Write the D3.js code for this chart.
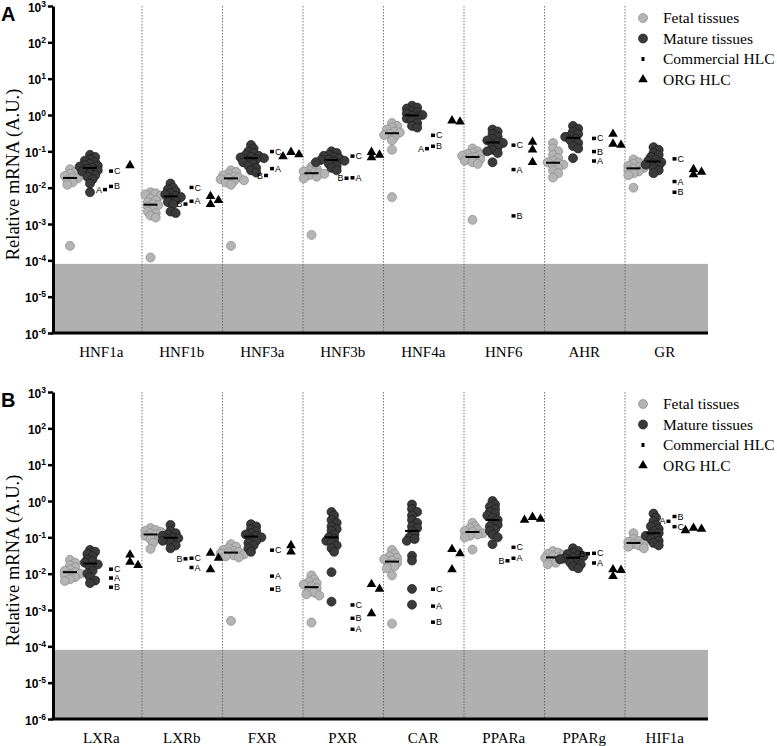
<!DOCTYPE html>
<html>
<head>
<meta charset="utf-8">
<script src="https://cdn.jsdelivr.net/npm/d3@7"></script>
<style>
  body { margin: 0; background: #fff; }
  svg { display: block; }
</style>
</head>
<body>
<div id="chart"></div>
<script>
const genesA = ['HNF1a', 'HNF1b', 'HNF3a', 'HNF3b', 'HNF4a', 'HNF6', 'AHR', 'GR']
const genesB = ['LXRa', 'LXRb', 'FXR', 'PXR', 'CAR', 'PPARa', 'PPARg', 'HIF1a']
const groups = ['Fetal tissues', 'Mature tissues', 'Commercial HLC', 'ORG HLC']
const hlcLetters = ['A', 'B', 'C']
const yTicks = [1e-6, 1e-5, 1e-4, 1e-3, 1e-2, 1e-1, 1e0, 1e1, 1e2, 1e3]
const detectionLimit = 8e-5

const fetalA = [
  [0.032, 0.027, 0.024, 0.021, 0.019, 0.018, 0.016, 0.014, 0.012, 0.00025],
  [0.0075, 0.007, 0.0065, 0.006, 0.005, 0.0045, 0.004, 0.0035, 0.0033, 0.003, 0.0025, 0.0022, 0.002, 0.0017, 0.0015, 0.00012],
  [0.03, 0.027, 0.024, 0.022, 0.02, 0.019, 0.018, 0.017, 0.016, 0.015, 0.014, 0.012, 0.00025],
  [0.038, 0.033, 0.03, 0.028, 0.026, 0.025, 0.024, 0.022, 0.02, 0.018, 0.0005],
  [0.6, 0.5, 0.45, 0.4, 0.35, 0.33, 0.3, 0.28, 0.25, 0.2, 0.11, 0.0055],
  [0.12, 0.1, 0.09, 0.085, 0.08, 0.075, 0.07, 0.065, 0.06, 0.055, 0.05, 0.045, 0.0013],
  [0.17, 0.12, 0.1, 0.08, 0.065, 0.055, 0.05, 0.047, 0.043, 0.04, 0.035, 0.03, 0.025, 0.019],
  [0.06, 0.05, 0.045, 0.04, 0.037, 0.035, 0.033, 0.03, 0.028, 0.025, 0.022, 0.01]
]
const matureA = [
  [0.08, 0.07, 0.06, 0.055, 0.05, 0.045, 0.042, 0.04, 0.038, 0.035, 0.033, 0.03, 0.028, 0.025, 0.022, 0.02, 0.017, 0.013, 0.0075],
  [0.013, 0.01, 0.009, 0.008, 0.007, 0.0065, 0.006, 0.0055, 0.005, 0.0045, 0.004, 0.0035, 0.0022, 0.002],
  [0.15, 0.12, 0.1, 0.09, 0.08, 0.075, 0.07, 0.068, 0.065, 0.06, 0.055, 0.05, 0.045, 0.04, 0.035, 0.03, 0.026],
  [0.1, 0.09, 0.08, 0.075, 0.07, 0.065, 0.06, 0.058, 0.055, 0.052, 0.05, 0.045, 0.04, 0.035, 0.03],
  [1.8, 1.6, 1.5, 1.3, 1.2, 1.1, 1.0, 0.95, 0.9, 0.8, 0.7, 0.6, 0.5, 0.45],
  [0.4, 0.35, 0.3, 0.25, 0.22, 0.2, 0.18, 0.17, 0.15, 0.13, 0.11, 0.1, 0.09, 0.05],
  [0.5, 0.42, 0.35, 0.3, 0.27, 0.25, 0.22, 0.2, 0.17, 0.14, 0.12, 0.065],
  [0.13, 0.11, 0.09, 0.08, 0.07, 0.06, 0.055, 0.05, 0.047, 0.043, 0.04, 0.035, 0.03, 0.025]
]
// commercial HLC values, order A, B, C
const commA = [
  [0.009, 0.011, 0.029],
  [0.0043, 0.0036, 0.0103],
  [0.034, 0.022, 0.1],
  [0.019, 0.0185, 0.075],
  [0.12, 0.14, 0.28],
  [0.032, 0.0017, 0.15],
  [0.055, 0.1, 0.23],
  [0.015, 0.0076, 0.063]
]
const orgA = [
  [0.041],
  [0.0058, 0.0045, 0.0035],
  [0.095, 0.082, 0.072],
  [0.095, 0.08, 0.068],
  [0.7, 0.65],
  [0.18, 0.11, 0.05],
  [0.3, 0.16, 0.15],
  [0.032, 0.027, 0.023]
]

const fetalB = [
  [0.024, 0.02, 0.017, 0.015, 0.013, 0.012, 0.011, 0.01, 0.0095, 0.009, 0.008, 0.007, 0.0063],
  [0.18, 0.16, 0.15, 0.14, 0.13, 0.12, 0.11, 0.1, 0.09, 0.07, 0.048],
  [0.065, 0.055, 0.05, 0.045, 0.042, 0.04, 0.038, 0.036, 0.034, 0.032, 0.03, 0.028, 0.0005],
  [0.009, 0.007, 0.006, 0.0055, 0.005, 0.0045, 0.004, 0.0035, 0.003, 0.0027, 0.0025, 0.00045],
  [0.045, 0.035, 0.03, 0.027, 0.025, 0.023, 0.02, 0.018, 0.016, 0.014, 0.009, 0.00042],
  [0.25, 0.2, 0.18, 0.16, 0.15, 0.14, 0.13, 0.12, 0.11, 0.1, 0.046],
  [0.042, 0.038, 0.035, 0.033, 0.03, 0.028, 0.027, 0.025, 0.023, 0.02, 0.018],
  [0.13, 0.09, 0.08, 0.075, 0.07, 0.065, 0.06, 0.055, 0.05]
]
const matureB = [
  [0.045, 0.04, 0.035, 0.03, 0.025, 0.022, 0.02, 0.018, 0.015, 0.012, 0.01, 0.008, 0.0065, 0.0055],
  [0.22, 0.15, 0.13, 0.12, 0.11, 0.1, 0.095, 0.09, 0.08, 0.07, 0.06, 0.05],
  [0.23, 0.2, 0.17, 0.15, 0.13, 0.12, 0.11, 0.1, 0.09, 0.08, 0.07, 0.06, 0.05, 0.04],
  [0.5, 0.4, 0.3, 0.25, 0.2, 0.17, 0.15, 0.12, 0.1, 0.09, 0.08, 0.07, 0.06, 0.05, 0.04, 0.011, 0.0017],
  [0.8, 0.6, 0.5, 0.4, 0.3, 0.25, 0.2, 0.18, 0.15, 0.12, 0.1, 0.09, 0.08, 0.031, 0.023, 0.0038, 0.0014],
  [1.0, 0.8, 0.7, 0.6, 0.5, 0.45, 0.4, 0.35, 0.3, 0.25, 0.22, 0.2, 0.17, 0.15, 0.12, 0.1, 0.065],
  [0.05, 0.042, 0.038, 0.035, 0.032, 0.03, 0.028, 0.027, 0.025, 0.022, 0.02, 0.018, 0.016, 0.014],
  [0.45, 0.35, 0.28, 0.22, 0.2, 0.17, 0.15, 0.13, 0.12, 0.11, 0.1, 0.09, 0.08, 0.07, 0.06]
]
const commB = [
  [0.0077, 0.0043, 0.0135],
  [0.015, 0.026, 0.027],
  [0.0087, 0.0038, 0.045],
  [0.0003, 0.0006, 0.0014],
  [0.0013, 0.00047, 0.0038],
  [0.027, 0.023, 0.054],
  [0.02, 0.036, 0.037],
  [0.28, 0.38, 0.2]
]
const orgB = [
  [0.033, 0.021, 0.017],
  [0.037, 0.027, 0.013],
  [0.06, 0.04],
  [0.0051, 0.0038, 0.0008],
  [0.047, 0.036, 0.013],
  [0.36, 0.32, 0.3],
  [0.013, 0.0125, 0.0085],
  [0.18, 0.17, 0.155]
]

const panels = [
  { letter: 'A', genes: genesA, fetal: fetalA, mature: matureA, comm: commA, org: orgA, top: 6 },
  { letter: 'B', genes: genesB, fetal: fetalB, mature: matureB, comm: commB, org: orgB, top: 392 }
]

const width = 777
const height = 746
const plotH = 327
const axisX = 53
const rightX = 708
const serif = 'Liberation Serif, Times New Roman, serif'
const sans = 'Liberation Sans, Arial, sans-serif'

const svg = d3.select('#chart').append('svg')
  .attr('width', width)
  .attr('height', height)

// simple beeswarm: keep points at least minD apart, shifting sideways in steps
const swarm = (vals, y, minD, step) => {
  const pts = vals.map(v => ({ v, py: y(v), dx: 0 })).sort((a, b) => a.py - b.py)
  const placed = []
  pts.forEach(p => {
    for (let k = 0; k < 40; k++) {
      const c = k === 0 ? 0 : (k % 2 ? 1 : -1) * Math.ceil(k / 2) * step
      const ok = placed.every(q => (c - q.dx) ** 2 + (p.py - q.py) ** 2 >= minD * minD)
      if (ok) { p.dx = c; break }
    }
    placed.push(p)
  })
  return pts
}

const drawPanel = (p) => {
  const y = d3.scaleLog().domain([1e-6, 1e3]).range([p.top + plotH, p.top])
  const x = d3.scaleBand().domain(p.genes).range([61, 705])
  const gx = d3.scalePoint().domain(groups).range([9, 69])
  const bottom = p.top + plotH

  const g = svg.append('g')

  // below detection limit
  g.append('rect')
    .attr('x', axisX)
    .attr('y', y(detectionLimit))
    .attr('width', rightX - axisX)
    .attr('height', bottom - y(detectionLimit))
    .attr('fill', '#b0b0b0')

  // dotted separators
  g.selectAll('.sep')
    .data(p.genes.slice(1))
    .enter()
    .append('line')
    .attr('x1', d => x(d) + 0.5)
    .attr('x2', d => x(d) + 0.5)
    .attr('y1', p.top)
    .attr('y2', bottom)
    .attr('stroke', '#555')
    .attr('stroke-width', 0.8)
    .attr('stroke-dasharray', '1.5,1.5')

  // y axis
  const yAxis = d3.axisLeft(y)
    .tickValues(yTicks)
    .tickSize(5)
    .tickSizeOuter(0)
    .tickFormat(() => '')
  const ya = g.append('g')
    .attr('transform', `translate(${axisX},0)`)
    .call(yAxis)
  ya.select('.domain').attr('stroke', '#000').attr('stroke-width', 3)
  ya.selectAll('.tick line').attr('stroke', '#000').attr('stroke-width', 2.5)
  ya.selectAll('.tick text')
    .attr('x', -7)
    .attr('dy', '0.42em')
    .attr('font-family', sans)
    .attr('font-weight', 'bold')
    .attr('font-size', 12)
    .attr('fill', '#000')
    .each(function (d) {
      const t = d3.select(this)
      t.append('tspan').text('10')
      t.append('tspan').attr('dy', -5).attr('font-size', 8.5).text(Math.round(Math.log10(d)))
    })

  // x axis line
  g.append('line')
    .attr('x1', axisX - 1.5)
    .attr('x2', rightX)
    .attr('y1', bottom)
    .attr('y2', bottom)
    .attr('stroke', '#000')
    .attr('stroke-width', 3)

  const xAxis = d3.axisBottom(x).tickSize(0)
  const xa = g.append('g')
    .attr('transform', `translate(0,${bottom})`)
    .call(xAxis)
  xa.attr('font-family', serif).attr('font-size', 15)
  xa.select('.domain').remove()
  xa.selectAll('.tick text')
    .attr('y', 13)
    .attr('dy', '0.71em')
    .attr('fill', '#000')

  // y title
  g.append('text')
    .attr('transform', `translate(19,${p.top + plotH / 2 + 5}) rotate(-90)`)
    .attr('text-anchor', 'middle')
    .attr('font-family', serif)
    .attr('font-size', 18.5)
    .text('Relative mRNA (A.U.)')

  // panel letter
  g.append('text')
    .attr('x', 1)
    .attr('y', p.top + 15)
    .attr('font-family', sans)
    .attr('font-weight', 'bold')
    .attr('font-size', 20)
    .text(p.letter)

  // tissues
  const tissue = [
    { key: 'Fetal tissues', vals: p.fetal, fill: '#b4b4b4', stroke: '#8a8a8a' },
    { key: 'Mature tissues', vals: p.mature, fill: '#3a3a3a', stroke: '#1c1c1c' }
  ]
  tissue.forEach(t => {
    p.genes.forEach((gene, i) => {
      const cx = x(gene) + gx(t.key)
      const pts = swarm(t.vals[i], y, 4.2, 2.6)
      g.append('g').selectAll('circle')
        .data(pts)
        .enter()
        .append('circle')
        .attr('cx', d => cx + d.dx)
        .attr('cy', d => d.py)
        .attr('r', 4.5)
        .attr('fill', t.fill)
        .attr('stroke', t.stroke)
        .attr('stroke-width', 0.7)
      const med = d3.median(t.vals[i])
      g.append('line')
        .attr('x1', cx - 7)
        .attr('x2', cx + 7)
        .attr('y1', y(med))
        .attr('y2', y(med))
        .attr('stroke', '#000')
        .attr('stroke-width', 2)
    })
  })

  // commercial HLC with letters
  p.genes.forEach((gene, i) => {
    const cx = x(gene) + gx('Commercial HLC')
    const items = p.comm[i].map((v, j) => ({ v, letter: hlcLetters[j], py: y(v) }))
      .sort((a, b) => b.v - a.v)
    items.forEach((d, j) => {
      d.side = 'R'
      if (j > 0 && Math.abs(d.py - items[j - 1].py) < 7.2) d.side = items[j - 1].side === 'R' ? 'L' : 'R'
    })
    const cg = g.append('g')
    cg.selectAll('rect')
      .data(items)
      .enter()
      .append('rect')
      .attr('x', d => (d.side === 'R' ? cx + 1 : cx - 5) - 2)
      .attr('y', d => d.py - 1.5)
      .attr('width', 4)
      .attr('height', 3.5)
      .attr('fill', '#000')
    cg.selectAll('text')
      .data(items)
      .enter()
      .append('text')
      .attr('x', d => d.side === 'R' ? cx + 4 : cx - 8)
      .attr('y', d => d.py + 3.3)
      .attr('text-anchor', d => d.side === 'R' ? 'start' : 'end')
      .attr('font-family', sans)
      .attr('font-size', 9)
      .text(d => d.letter)
  })

  // ORG HLC
  const tri = d3.symbol().type(d3.symbolTriangle).size(40)
  p.genes.forEach((gene, i) => {
    const cx = x(gene) + gx('ORG HLC')
    const pts = swarm(p.org[i], y, 5, 8)
    g.append('g').selectAll('path')
      .data(pts)
      .enter()
      .append('path')
      .attr('d', tri)
      .attr('transform', d => `translate(${cx + d.dx},${d.py})`)
      .attr('fill', '#000')
  })

  // legend
  const lg = g.append('g').attr('transform', `translate(643,${p.top + 12})`)
  groups.forEach((name, k) => {
    const row = lg.append('g').attr('transform', `translate(0,${k * 20.5})`)
    if (k === 0) row.append('circle').attr('r', 4.5).attr('fill', '#b4b4b4').attr('stroke', '#8a8a8a').attr('stroke-width', 0.7)
    if (k === 1) row.append('circle').attr('r', 4.5).attr('fill', '#3a3a3a').attr('stroke', '#1c1c1c').attr('stroke-width', 0.7)
    if (k === 2) row.append('rect').attr('x', -1.5).attr('y', -2).attr('width', 3).attr('height', 4).attr('fill', '#000')
    if (k === 3) row.append('path').attr('d', tri).attr('fill', '#000')
    row.append('text')
      .attr('x', 20)
      .attr('dy', '0.35em')
      .attr('font-family', serif)
      .attr('font-size', 15.5)
      .text(name)
  })
}

panels.forEach(drawPanel)
</script>
</body>
</html>
